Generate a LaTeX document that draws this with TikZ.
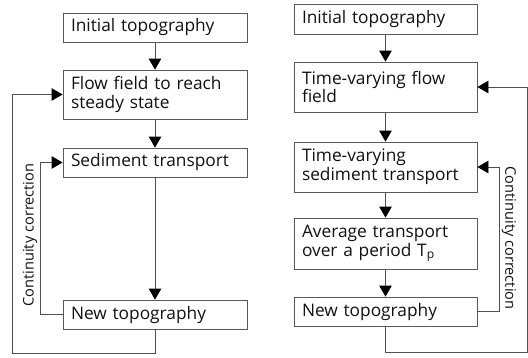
\documentclass[tikz,border=0pt]{standalone}
\usepackage{fontspec}
\setmainfont{Open Sans}
\usetikzlibrary{arrows.meta}
\definecolor{boxline}{HTML}{595959}
\definecolor{wire}{HTML}{505050}
\definecolor{ink}{HTML}{111111}
\tikzset{
  stepbox/.style={draw=boxline, line width=0.8pt, rectangle, inner xsep=8pt, inner ysep=0pt,
    minimum width=#1, text width=#1-16pt, align=left, text=ink,
    font=\fontsize{17.3}{18.8}\selectfont},
  flow/.style={draw=wire, line width=0.8pt, -{Triangle[width=12.5pt,length=11pt,fill=black,color=black]}},
  sidelabel/.style={text=ink, font=\fontsize{14.6}{16}\selectfont, inner sep=0pt}
}
\begin{document}
\begin{tikzpicture}[x=1pt, y=-1pt]
\useasboundingbox (0,0) rectangle (528,357);

% left chain: steady-state flow
\node[stepbox=184pt, minimum height=29pt] (L1) at (155,27.5) {Initial topography};
\node[stepbox=184pt, minimum height=49pt] (L2) at (155,94.5) {Flow field to reach\\steady state};
\node[stepbox=184pt, minimum height=29pt] (L3) at (155,162.5) {Sediment transport};
\node[stepbox=184pt, minimum height=29pt] (L4) at (155,314.5) {New topography};

\draw[flow] (L1) -- (L2);
\draw[flow] (L2) -- (L3);
\draw[flow] (L3) -- (L4);

\coordinate (Lout) at (12,353);
\draw[flow] (L4.south) |- (Lout) |- (L2.west);
\draw[flow] (L4.west) -| ([xshift=-22pt]L3.west) -- (L3.west);
\node[sidelabel, rotate=90] (Llab) at (30,235) {Continuity correction};

% right chain: time-varying flow
\node[stepbox=183pt, minimum height=30pt] (R1) at (385.5,19) {Initial topography};
\node[stepbox=183pt, minimum height=50pt] (R2) at (385.5,87) {Time-varying flow\\field};
\node[stepbox=183pt, minimum height=50pt] (R3) at (385.5,167) {Time-varying\\sediment transport};
\node[stepbox=183pt, minimum height=51pt] (R4) at (385.5,243.5) {Average transport\\over a period T\textsubscript{p}};
\node[stepbox=183pt, minimum height=29pt] (R5) at (385.5,311.5) {New topography};

\draw[flow] (R1) -- (R2);
\draw[flow] (R2) -- (R3);
\draw[flow] (R3) -- (R4);
\draw[flow] (R4) -- (R5);

\coordinate (Rout) at (527.6,352);
\draw[flow] (R5.south) |- (Rout) |- (R2.east);
\draw[flow] (R5.east) -| ([xshift=22pt]R3.east) -- (R3.east);
\node[sidelabel, rotate=-90] (Rlab) at (509,238) {Continuity correction};
\end{tikzpicture}
\end{document}
